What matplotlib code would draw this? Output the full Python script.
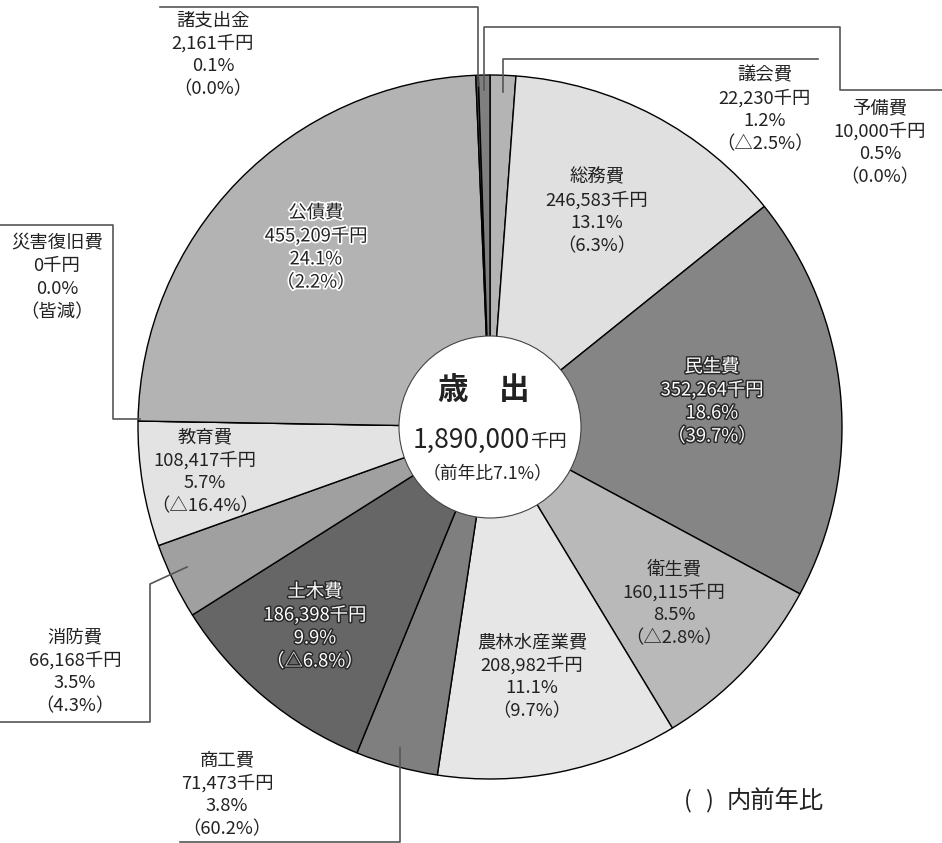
import matplotlib
matplotlib.use("Agg")
import matplotlib.pyplot as plt
import matplotlib.patheffects as pe
from matplotlib.patches import Circle

plt.rcParams['font.family'] = ['Noto Sans CJK JP', 'DejaVu Sans']

categories = ["議会費", "総務費", "民生費", "衛生費", "農林水産業費", "商工費", "土木費",
              "消防費", "教育費", "災害復旧費", "公債費", "諸支出金", "予備費"]
values = [22230, 246583, 352264, 160115, 208982, 71473, 186398,
          66168, 108417, 0, 455209, 2161, 10000]
amount_labels = ["22,230千円", "246,583千円", "352,264千円", "160,115千円", "208,982千円",
                 "71,473千円", "186,398千円", "66,168千円", "108,417千円", "0千円",
                 "455,209千円", "2,161千円", "10,000千円"]
share_labels = ["1.2%", "13.1%", "18.6%", "8.5%", "11.1%", "3.8%", "9.9%",
                "3.5%", "5.7%", "0.0%", "24.1%", "0.1%", "0.5%"]
yoy_labels = ["（△2.5%）", "（6.3%）", "（39.7%）", "（△2.8%）", "（9.7%）", "（60.2%）", "（△6.8%）",
              "（4.3%）", "（△16.4%）", "（皆減）", "（2.2%）", "（0.0%）", "（0.0%）"]
total_label = "1,890,000"
total_yoy = "（前年比7.1%）"

colors = ["#b4b4b4", "#e0e0e0", "#858585", "#b9b9b9", "#e6e6e6", "#7f7f7f", "#666666",
          "#a0a0a0", "#e3e3e3", "#cccccc", "#b3b3b3", "#4d4d4d", "#7f7f7f"]

W, H = 942, 843
fig = plt.figure(figsize=(W / 100, H / 100), dpi=100)
ax = fig.add_axes([0, 0, 1, 1])

cx, cy, R = 490, 427, 352

# y axis is inverted (pixel coordinates), so angle 270 points up on screen and
# counterclock=True runs clockwise on screen
wedges, _ = ax.pie(values, colors=colors, startangle=270, counterclock=True,
                   center=(cx, cy), radius=R, frame=True,
                   wedgeprops=dict(edgecolor='black', linewidth=1.0))
ax.set_xlim(0, W)
ax.set_ylim(H, 0)
ax.set_aspect('equal')
ax.axis('off')

ax.add_patch(Circle((cx, cy), 91, facecolor='white', edgecolor='#444444', lw=0.8, zorder=5))

label_pos = {
    "議会費": (765, 75), "総務費": (597, 177), "民生費": (712, 367), "衛生費": (674, 569),
    "農林水産業費": (532, 642), "商工費": (227, 760), "土木費": (315, 592),
    "消防費": (75, 637), "教育費": (205, 437), "災害復旧費": (57, 243),
    "公債費": (316, 213), "諸支出金": (213, 20), "予備費": (880, 108),
}
white_outline = {"民生費", "土木費"}
halo = {"公債費"}
fs = 13.2
dy = 23.2
for i, c in enumerate(categories):
    x, y = label_pos[c]
    lines = [c, amount_labels[i], share_labels[i], yoy_labels[i]]
    for k, t in enumerate(lines):
        kw = dict(ha='center', va='center', fontsize=fs, zorder=6)
        if c in white_outline:
            kw['color'] = 'white'
            kw['path_effects'] = [pe.withStroke(linewidth=2.2, foreground='#2a2a2a')]
        elif c in halo:
            kw['color'] = '#222222'
            kw['path_effects'] = [pe.withStroke(linewidth=2.5, foreground='white')]
        else:
            kw['color'] = '#222222'
        ax.text(x, y + k * dy, t, **kw)

# leader lines
lc = dict(color='#555555', lw=1.2, zorder=4)
ax.plot([160, 478, 478], [7, 7, 86], **lc)                       # 諸支出金
ax.plot([484, 484, 840, 840, 942], [90, 27, 27, 90, 90], **lc)   # 予備費
ax.plot([503, 503, 818], [92, 59, 59], **lc)                     # 議会費
ax.plot([0, 113, 113, 140], [225, 225, 419, 419], **lc)          # 災害復旧費
ax.plot([187, 150, 150, 0], [567, 584, 722, 722], **lc)          # 消防費
ax.plot([400, 400, 180], [748, 842, 842], **lc)                  # 商工費

# center text
ax.text(cx - 6, 390, "歳　出", ha='center', va='center', fontsize=22, fontweight='bold',
        color='#222222', zorder=7)
ax.text(530, 440, total_label, ha='right', va='center', fontsize=19,
        color='#222222', zorder=7)
ax.text(530, 442, "千円", ha='left', va='center', fontsize=13.2,
        color='#222222', zorder=7)
ax.text(cx - 2, 473, total_yoy, ha='center', va='center', fontsize=12.8,
        color='#222222', zorder=7)

# legend note
ax.text(688, 801, "(", ha='center', va='center', fontsize=17, color='#222222')
ax.text(709, 801, ")", ha='center', va='center', fontsize=17, color='#222222')
ax.text(727, 801, "内前年比", ha='left', va='center', fontsize=17.5, color='#222222')

fig.savefig("out.png", dpi=100)
